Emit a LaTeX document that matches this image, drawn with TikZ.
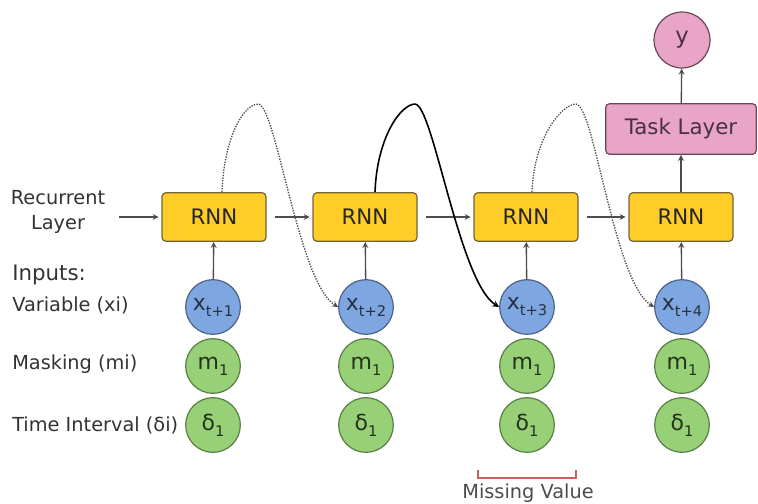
\documentclass[tikz,border=0pt]{standalone}
\usepackage{fontspec}
\setmainfont{DejaVu Sans}
\usepackage{tikz}

\definecolor{rnnfill}{RGB}{255,205,40}
\definecolor{rnnline}{RGB}{115,100,55}
\definecolor{xfill}{RGB}{126,166,224}
\definecolor{xline}{RGB}{78,98,135}
\definecolor{mfill}{RGB}{151,208,119}
\definecolor{mline}{RGB}{88,128,68}
\definecolor{taskfill}{RGB}{232,165,200}
\definecolor{taskline}{RGB}{105,70,88}
\definecolor{gapred}{RGB}{205,95,95}

% small lowered index inside the circles
\newcommand{\idx}[1]{\raisebox{-0.5ex}{\fontsize{11}{11}\selectfont#1}}

\begin{document}
\begin{tikzpicture}[
            x=0.75pt, y=-0.75pt,
            >=stealth,
            rnn/.style={draw=rnnline,fill=rnnfill,rounded corners=3pt,line width=0.9pt,
              minimum width=78pt,minimum height=36.5pt,
              font=\fontsize{16}{18}\selectfont,text=black!85},
            task/.style={draw=taskline,fill=taskfill,rounded corners=3pt,line width=0.9pt,
              minimum width=113pt,minimum height=38pt,
              font=\fontsize{16}{18}\selectfont,text=taskline!70!black},
            outc/.style={draw=taskline,fill=taskfill,circle,minimum size=42pt,line width=0.9pt,
              inner sep=0pt,font=\fontsize{17}{18}\selectfont,text=taskline!70!black},
            xin/.style={draw=xline,fill=xfill,circle,minimum size=41pt,line width=0.9pt,
              inner sep=0pt,font=\fontsize{16.5}{18}\selectfont,text=xline!50!black},
            min/.style={draw=mline,fill=mfill,circle,minimum size=41pt,line width=0.9pt,
              inner sep=0pt,font=\fontsize{16.5}{18}\selectfont,text=mline!40!black},
            lbl/.style={inner sep=0pt,font=\fontsize{14.5}{18.5}\selectfont,text=black!80},
            flow/.style={->,draw=black!70,line width=1pt},
            skipd/.style={->,draw=black!70,line width=1pt,densely dotted},
            skips/.style={->,draw=black,line width=1.2pt}
            ]
            \useasboundingbox (0,0) rectangle (758,504);

            % side labels
            \node[lbl,align=center] (reclbl) at (58,212) {Recurrent\\Layer};
            \node[lbl,anchor=west,font=\fontsize{16}{18}\selectfont] (inlbl) at (12,275) {Inputs:};
            \node[lbl,anchor=west] (varlbl) at (12,305) {Variable (xi)};
            \node[lbl,anchor=west] (masklbl) at (12,364) {Masking (mi)};
            \node[lbl,anchor=west] (timelbl) at (12,425) {Time Interval (δi)};

            % recurrent layer
            \node[rnn] (r1) at (214,217) {RNN};
            \node[rnn] (r2) at (365,217) {RNN};
            \node[rnn] (r3) at (526,217) {RNN};
            \node[rnn] (r4) at (681,217) {RNN};
            \node[task] (task) at (681,129) {Task Layer};
            \node[outc] (y) at (682,40) {y};

            % inputs
            \node[xin] (x1) at (213,307) {x\idx{t+1}};
            \node[xin] (x2) at (366,307) {x\idx{t+2}};
            \node[xin] (x3) at (527,307) {x\idx{t+3}};
            \node[xin] (x4) at (682,307) {x\idx{t+4}};
            \node[min] (m1) at (213,366) {m\idx{1}};
            \node[min] (m2) at (366,366) {m\idx{1}};
            \node[min] (m3) at (527,366) {m\idx{1}};
            \node[min] (m4) at (682,366) {m\idx{1}};
            \node[min] (d1) at (213,425) {δ\idx{1}};
            \node[min] (d2) at (366,425) {δ\idx{1}};
            \node[min] (d3) at (527,425) {δ\idx{1}};
            \node[min] (d4) at (682,425) {δ\idx{1}};

            \coordinate (rin) at (119,217);
            \draw[flow,shorten >=2pt] (rin) -- (r1);
            \draw[flow,shorten <=6pt,shorten >=2pt] (r1) -- (r2);
            \draw[flow,shorten <=6pt,shorten >=2pt] (r2) -- (r3);
            \draw[flow,shorten <=6pt,shorten >=2pt] (r3) -- (r4);

            \draw[flow] (x1) -- (r1);
            \draw[flow] (x2) -- (r2);
            \draw[flow] (x3) -- (r3);
            \draw[flow] (x4) -- (r4);
            \draw[flow] (r4) -- (task);
            \draw[flow] (task) -- (y);

            % skip connections over the time steps
            \draw[skipd] ([shift={(8,0)}]r1.north) .. controls +(2,-55) and +(-14,0) .. ++(36,-88)
                .. controls +(18,0) and +(-40,-25) .. (x2.west);
            \draw[skips] ([shift={(10,0)}]r2.north) .. controls +(2,-55) and +(-14,0) .. ++(40,-88)
                .. controls +(18,0) and +(-40,-25) .. (x3.west);
            \draw[skipd] ([shift={(6,0)}]r3.north) .. controls +(2,-55) and +(-14,0) .. ++(44,-88)
                .. controls +(18,0) and +(-40,-25) .. (x4.west);

            % missing value marker
            \draw[gapred,line width=1pt] (478,470) -- (478,478) -- (576,478) -- (576,470);
            \node[lbl,font=\fontsize{14.5}{18}\selectfont,text=black!70] (misslbl) at (528,493) {Missing Value};
        \end{tikzpicture}
\end{document}
